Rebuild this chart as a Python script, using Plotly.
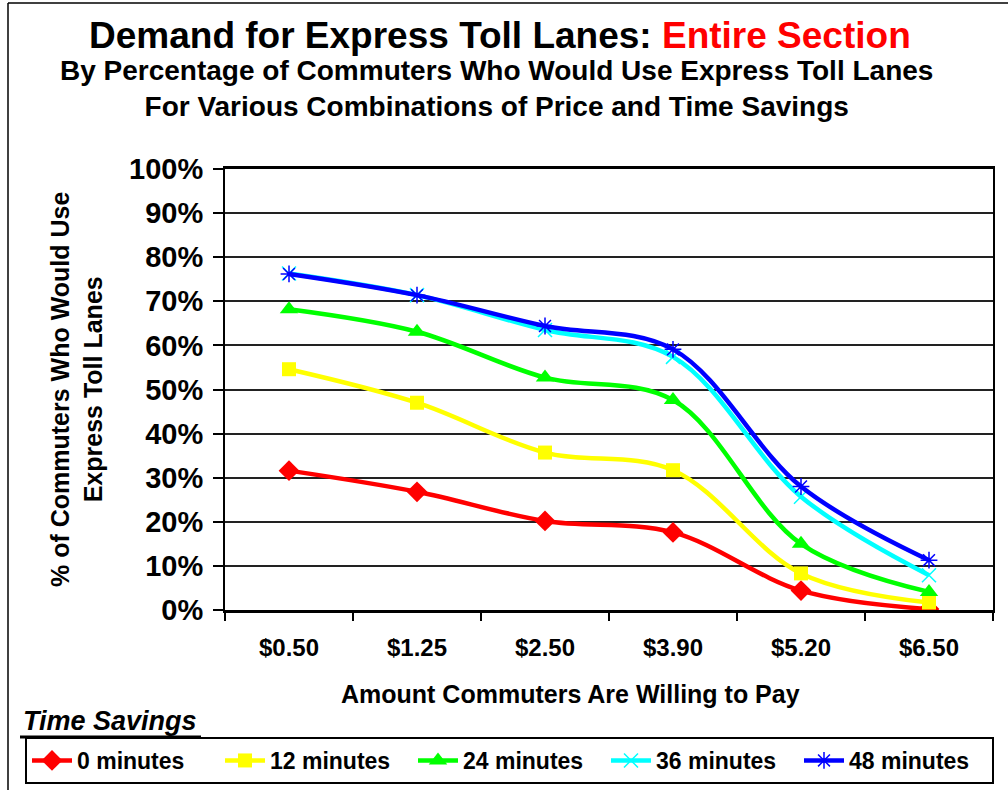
import plotly.graph_objects as go

# ---- data ----
prices = ["$0.50", "$1.25", "$2.50", "$3.90", "$5.20", "$6.50"]
min0 = [0.316, 0.268, 0.202, 0.176, 0.044, 0.002]
min12 = [0.546, 0.470, 0.357, 0.317, 0.083, 0.017]
min24 = [0.682, 0.631, 0.527, 0.476, 0.150, 0.041]
min36 = [0.763, 0.714, 0.635, 0.574, 0.257, 0.079]
min48 = [0.762, 0.714, 0.644, 0.591, 0.280, 0.113]
series_names = ["0 minutes", "12 minutes", "24 minutes", "36 minutes", "48 minutes"]
y_ticks = [0, 0.1, 0.2, 0.3, 0.4, 0.5, 0.6, 0.7, 0.8, 0.9, 1.0]

W, H = 1008, 790
L, R, T, B = 225, 993, 169, 610  # plot area pixel box

def px(x):
    return (x - L) / (R - L)

def py(y):
    return (B - y) / (B - T)

FONT = "Arial, Liberation Sans, Helvetica, sans-serif"

styles = [
    dict(color="#FF0000", symbol="diamond", size=16, lw=0),
    dict(color="#FFFF00", symbol="square", size=14, lw=0),
    dict(color="#00FF00", symbol="triangle-up", size=16, lw=0),
    dict(color="#00FFFF", symbol="x-thin-open", size=14, lw=1.5),
    dict(color="#0000FF", symbol="asterisk-open", size=14, lw=1.5),
]
data = [min0, min12, min24, min36, min48]

fig = go.Figure()
for name, vals, st in zip(series_names, data, styles):
    fig.add_trace(go.Scatter(
        x=prices, y=vals, name=name, mode="lines+markers",
        line=dict(color=st["color"], width=4.5, shape="spline", smoothing=1.0),
        marker=dict(symbol=st["symbol"], size=st["size"], color=st["color"],
                    line=dict(color=st["color"], width=st["lw"])),
    ))

fig.update_layout(
    width=W, height=H,
    margin=dict(l=L, r=W - R, t=T, b=H - B, autoexpand=False),
    paper_bgcolor="white", plot_bgcolor="white",
    font=dict(family=FONT, color="black"),
    showlegend=True,
    legend=dict(
        orientation="h", x=px(25), xanchor="left", y=py(737), yanchor="top",
        bordercolor="black", borderwidth=2,
        font=dict(size=23, family=FONT, weight="bold"),
        entrywidth=138, entrywidthmode="pixels",
        itemwidth=40, tracegroupgap=0,
    ),
    xaxis=dict(
        type="category", range=[-0.5, 5.5],
        showline=True, linecolor="black", linewidth=2.5, mirror=True,
        ticks="outside", ticklen=8, tickwidth=1.5, tickcolor="black",
        tickson="boundaries",
        tickfont=dict(size=24, family=FONT, weight="bold"),
        ticklabelstandoff=14,
        showgrid=False, zeroline=False,
    ),
    yaxis=dict(
        range=[0, 1.0], tickvals=y_ticks, tickformat=".0%",
        showline=True, linecolor="black", linewidth=2, mirror=True,
        ticks="outside", ticklen=10, tickwidth=1.5, tickcolor="black",
        tickfont=dict(size=29, family=FONT, weight="bold"),
        ticklabelstandoff=4,
        showgrid=True, gridcolor="#222222", gridwidth=1.5, zeroline=False,
    ),
)

annotations = [
    dict(text="Demand for Express Toll Lanes: <span style='color:#FF0000'>Entire Section</span>",
         x=px(500), y=py(35), font=dict(size=37, family=FONT, weight="bold", color="black")),
    dict(text="By Percentage of Commuters Who Would Use Express Toll Lanes<br>For Various Combinations of Price and Time Savings",
         x=px(496), y=py(89), font=dict(size=28, family=FONT, weight="bold", color="black")),
    dict(text="% of Commuters Who Would Use<br>Express Toll Lanes", textangle=-90,
         x=px(76), y=py(390), font=dict(size=25, family=FONT, weight="bold", color="black")),
    dict(text="Amount Commuters Are Willing to Pay",
         x=px(570), y=py(694), font=dict(size=25, family=FONT, weight="bold", color="black")),
    dict(text="<i>Time Savings</i>", x=px(21), y=py(721), xanchor="left",
         font=dict(size=27, family=FONT, weight="bold", color="black")),
]
for a in annotations:
    a.setdefault("xanchor", "center")
    a.update(xref="paper", yref="paper", yanchor="middle", showarrow=False)
fig.update_layout(annotations=annotations)

shapes = [
    # underline for legend heading
    dict(type="line", xref="paper", yref="paper", x0=px(20), x1=px(201), y0=py(737), y1=py(737),
         line=dict(color="black", width=3)),
    # outer chart frame (top and left edges)
    dict(type="line", xref="paper", yref="paper", x0=px(8), x1=px(1010), y0=py(3), y1=py(3),
         line=dict(color="black", width=1.5)),
    dict(type="line", xref="paper", yref="paper", x0=px(8), x1=px(8), y0=py(3), y1=py(800),
         line=dict(color="black", width=1.5)),
]
fig.update_layout(shapes=shapes)

fig.write_html("out.html")
